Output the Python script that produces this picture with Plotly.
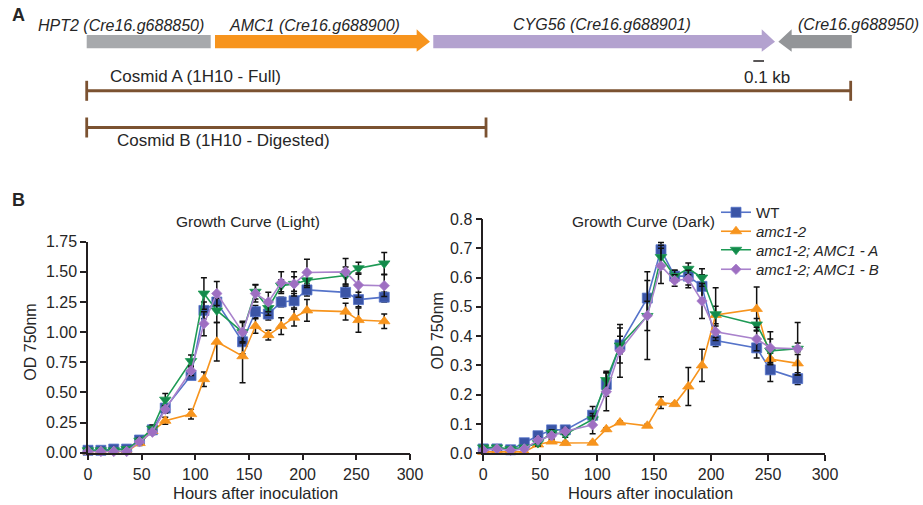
import plotly.graph_objects as go

# ---------------- data ----------------
hours = [0, 12, 24, 36, 48, 60, 72, 96, 108, 120, 144, 156, 168, 180, 192, 204, 240, 252, 276]

# Growth curve (Light)
wt_light = [0.02, 0.02, 0.03, 0.03, 0.105, 0.19, 0.37, 0.64, 1.18, 1.25, 0.92, 1.17, 1.15, 1.25, 1.26, 1.35, 1.33, 1.27, 1.29]
wt_light_err = [0.01, 0.01, 0.01, 0.01, 0.02, 0.03, 0.03, 0.03, 0.07, 0.06, 0.10, 0.05, 0.05, 0.04, 0.06, 0.05, 0.05, 0.06, 0.04]
amc_light = [0.01, 0.01, 0.01, 0.01, 0.08, 0.18, 0.265, 0.32, 0.61, 0.92, 0.80, 1.05, 0.975, 1.05, 1.12, 1.18, 1.17, 1.10, 1.09]
amc_light_err = [0.005, 0.005, 0.005, 0.005, 0.02, 0.02, 0.03, 0.04, 0.06, 0.16, 0.22, 0.06, 0.04, 0.07, 0.07, 0.09, 0.07, 0.10, 0.06]
compA_light = [0.02, 0.02, 0.02, 0.03, 0.10, 0.20, 0.44, 0.76, 1.32, 1.18, 1.00, 1.335, 1.20, 1.385, 1.40, 1.43, 1.47, 1.53, 1.57]
compA_light_err = [0.01, 0.01, 0.01, 0.01, 0.02, 0.03, 0.05, 0.05, 0.13, 0.10, 0.08, 0.06, 0.06, 0.05, 0.06, 0.06, 0.07, 0.05, 0.09]
compB_light = [0.01, 0.01, 0.01, 0.01, 0.09, 0.17, 0.36, 0.68, 1.07, 1.32, 1.00, 1.32, 1.25, 1.41, 1.40, 1.495, 1.50, 1.39, 1.385]
compB_light_err = [0.01, 0.01, 0.01, 0.01, 0.02, 0.02, 0.03, 0.04, 0.10, 0.10, 0.09, 0.07, 0.08, 0.09, 0.10, 0.11, 0.11, 0.10, 0.09]

# Growth curve (Dark)
wt_dark = [0.015, 0.015, 0.012, 0.036, 0.06, 0.08, 0.08, 0.13, 0.235, 0.37, 0.53, 0.695, 0.605, 0.605, 0.57, 0.385, 0.36, 0.285, 0.255]
wt_dark_err = [0.005, 0.005, 0.005, 0.005, 0.01, 0.01, 0.01, 0.03, 0.04, 0.03, 0.06, 0.025, 0.02, 0.03, 0.04, 0.02, 0.035, 0.04, 0.02]
amc_dark = [0.005, 0.005, 0.005, 0.005, 0.03, 0.04, 0.035, 0.036, 0.082, 0.105, 0.094, 0.173, 0.168, 0.228, 0.30, 0.472, 0.493, 0.322, 0.307]
amc_dark_err = [0.002, 0.002, 0.002, 0.002, 0.005, 0.005, 0.005, 0.004, 0.005, 0.005, 0.005, 0.02, 0.005, 0.065, 0.055, 0.03, 0.075, 0.02, 0.04]
compA_dark = [0.02, 0.02, 0.015, 0.02, 0.035, 0.07, 0.065, 0.116, 0.25, 0.368, 0.469, 0.67, 0.605, 0.63, 0.60, 0.475, 0.44, 0.35, 0.357]
compA_dark_err = [0.005, 0.005, 0.005, 0.005, 0.01, 0.01, 0.01, 0.02, 0.03, 0.06, 0.05, 0.04, 0.02, 0.02, 0.03, 0.09, 0.02, 0.04, 0.02]
compB_dark = [0.01, 0.015, 0.01, 0.015, 0.045, 0.06, 0.075, 0.097, 0.21, 0.35, 0.47, 0.64, 0.59, 0.595, 0.52, 0.415, 0.39, 0.36, 0.357]
compB_dark_err = [0.005, 0.005, 0.005, 0.005, 0.01, 0.01, 0.01, 0.03, 0.065, 0.09, 0.15, 0.06, 0.02, 0.03, 0.06, 0.02, 0.04, 0.055, 0.09]

series_names = ["WT", "<i>amc1-2</i>", "<i>amc1-2; AMC1 - A</i>", "<i>amc1-2; AMC1 - B</i>"]
line_colors = ["#5573C9", "#F7941D", "#1E9A55", "#A982CC"]
marker_colors = ["#3B55A6", "#F7941D", "#138A4B", "#9E6FC2"]
symbols = ["square", "triangle-up", "triangle-down", "diamond"]
sizes = [10, 10, 10, 8]

# Panel A gene map (kb from left end of HPT2)
gene_labels = ["HPT2 (Cre16.g688850)", "AMC1 (Cre16.g688900)", "CYG56 (Cre16.g688901)", "(Cre16.g688950)"]
gene_start = [0.0, 1.199, 3.239, 6.464]
gene_end = [1.159, 3.208, 6.433, 7.150]
gene_strand = [0, 1, 1, -1]
gene_colors = ["#A7A9AC", "#F7941D", "#B3A2CF", "#939598"]
cosmid_labels = ["Cosmid A (1H10 - Full)", "Cosmid B (1H10 - Digested)"]
cosmid_start = [0.0, 0.0]
cosmid_end = [7.14, 3.732]
scale_bar_kb = 0.1

# ---------------- figure ----------------
W, H = 923, 505
FONT = "Liberation Sans, Arial, sans-serif"
TXT = "#262626"


def PX(x):
    return x / W


def PY(y):
    return 1 - y / H


fig = go.Figure()

light = [(wt_light, wt_light_err), (amc_light, amc_light_err), (compA_light, compA_light_err), (compB_light, compB_light_err)]
dark = [(wt_dark, wt_dark_err), (amc_dark, amc_dark_err), (compA_dark, compA_dark_err), (compB_dark, compB_dark_err)]
legend_ids = ["legend", "legend2", "legend3", "legend4"]

for panel, (xa, ya, show) in zip([light, dark], [("x", "y", False), ("x2", "y2", True)]):
    for i, (vals, err) in enumerate(panel):
        fig.add_trace(go.Scatter(
            x=hours, y=vals, xaxis=xa, yaxis=ya, mode="lines+markers",
            name=series_names[i], showlegend=show, legend=legend_ids[i], cliponaxis=False,
            line=dict(color=line_colors[i], width=1.6),
            marker=dict(symbol=symbols[i], size=sizes[i], color=marker_colors[i],
                        line=dict(width=0.8, color=line_colors[i])),
            error_y=dict(type="data", array=err, visible=True, color="#111111", thickness=1.5, width=3),
        ))

# invisible trace for the schematic axis
fig.add_trace(go.Scatter(x=[0], y=[0], xaxis="x3", yaxis="y3", mode="markers",
                         marker=dict(opacity=0), showlegend=False, hoverinfo="skip"))

axis_common = dict(showline=True, linecolor="#231f20", linewidth=1.5, ticks="outside",
                   ticklen=6, tickwidth=1.5, tickcolor="#231f20", showgrid=False, zeroline=False,
                   automargin=False,
                   tickfont=dict(family=FONT, size=16, color=TXT), fixedrange=True)

# panel A scale: 107 px per kb, origin at page px 86.7
PX0, PXKB = 86.7, 107.0
fig.update_layout(
    width=W, height=H, margin=dict(l=0, r=0, t=0, b=0, pad=0, autoexpand=False),
    paper_bgcolor="white", plot_bgcolor="rgba(0,0,0,0)",
    font=dict(family=FONT, color=TXT),
    xaxis=dict(domain=[PX(88), PX(410)], range=[0, 300], tickvals=[0, 50, 100, 150, 200, 250, 300],
               anchor="y", **axis_common),
    yaxis=dict(domain=[PY(452.7), PY(241.7)], range=[0, 1.75], dtick=0.25, tickformat=".2f",
               anchor="x", **axis_common),
    xaxis2=dict(domain=[PX(483.3), PX(825)], range=[0, 300], tickvals=[0, 50, 100, 150, 200, 250, 300],
                anchor="y2", **axis_common),
    yaxis2=dict(domain=[PY(453.3), PY(219)], range=[0, 0.8], dtick=0.1, tickformat=".1f",
                anchor="x2", **axis_common),
    xaxis3=dict(domain=[0, 1], range=[-PX0 / PXKB, (W - PX0) / PXKB], visible=False,
                anchor="y3", fixedrange=True, automargin=False),
    yaxis3=dict(domain=[0, 1], range=[H, 0], visible=False, anchor="x3", fixedrange=True, automargin=False),
    showlegend=True,
)

# one legend per entry so the row spacing matches the reference
legend_centers = [211, 230, 248.5, 268]
for lid, yc in zip(legend_ids, legend_centers):
    fig.update_layout({lid: dict(x=PX(716), y=PY(yc - 15), xanchor="left", yanchor="top",
                                 bgcolor="rgba(0,0,0,0)", itemwidth=30,
                                 font=dict(family=FONT, size=15, color=TXT))})

shapes = []
annotations = []


def ann(text, px, py, size, italic=False, bold=False, xanchor="center", angle=0):
    t = text
    if italic:
        t = "<i>" + t + "</i>"
    if bold:
        t = "<b>" + t + "</b>"
    annotations.append(dict(text=t, x=PX(px), y=PY(py), xref="paper", yref="paper",
                            xanchor=xanchor, yanchor="middle", showarrow=False, textangle=angle,
                            font=dict(family=FONT, size=size, color=TXT)))


# gene arrows
BODY_T, BODY_B, HEAD_T, HEAD_B = 35, 48.3, 29.3, 51.7
HEAD = 13.3 / PXKB
for s, e, strand, col in zip(gene_start, gene_end, gene_strand, gene_colors):
    ym = (BODY_T + BODY_B) / 2
    if strand == 1:
        path = (f"M {s},{BODY_T} L {e-HEAD},{BODY_T} L {e-HEAD},{HEAD_T} L {e},{ym} "
                f"L {e-HEAD},{HEAD_B} L {e-HEAD},{BODY_B} L {s},{BODY_B} Z")
    elif strand == -1:
        path = (f"M {e},{BODY_T} L {s+HEAD},{BODY_T} L {s+HEAD},{HEAD_T} L {s},{ym} "
                f"L {s+HEAD},{HEAD_B} L {s+HEAD},{BODY_B} L {e},{BODY_B} Z")
    else:
        path = f"M {s},{BODY_T} L {e},{BODY_T} L {e},{BODY_B} L {s},{BODY_B} Z"
    shapes.append(dict(type="path", path=path, xref="x3", yref="y3", fillcolor=col, line=dict(width=0)))

# gene labels
ann(gene_labels[0], 121, 25, 16, italic=True)
ann(gene_labels[1], 314, 25, 16, italic=True)
ann(gene_labels[2], 602, 24.5, 16, italic=True)
ann(gene_labels[3], 921, 24.5, 16, italic=True, xanchor="right")

# cosmid lines
BROWN = "#7B5231"
for s, e, yc in zip(cosmid_start, cosmid_end, [90.8, 127.5]):
    shapes.append(dict(type="line", xref="x3", yref="y3", x0=s, x1=e, y0=yc, y1=yc, line=dict(color=BROWN, width=3)))
    for xx in (s, e):
        shapes.append(dict(type="line", xref="x3", yref="y3", x0=xx, x1=xx, y0=yc - 10, y1=yc + 10,
                           line=dict(color=BROWN, width=2.8)))
ann(cosmid_labels[0], 195, 76.5, 17)
ann(cosmid_labels[1], 223, 140.5, 17)

# scale bar
sb0 = (753.3 - PX0) / PXKB
shapes.append(dict(type="line", xref="x3", yref="y3", x0=sb0, x1=sb0 + scale_bar_kb, y0=61, y1=61,
                   line=dict(color="#231f20", width=1.5)))
ann("0.1 kb", 767, 77.5, 17)

# panel letters
ann("A", 18, 15, 18, bold=True)
ann("B", 18, 200, 18, bold=True)

# titles
ann("Growth Curve (Light)", 248.3, 221.7, 15.5)
ann("Growth Curve (Dark)", 643, 221.7, 15.5)
ann("Hours after inoculation", 255.8, 493, 16.5)
ann("Hours after inoculation", 650.7, 493, 16.5)
ann("OD 750nm", 31, 341.7, 16, angle=-90)
ann("OD 750nm", 436.5, 331, 16, angle=-90)

fig.update_layout(shapes=shapes, annotations=annotations)
fig.write_html("out.html")
